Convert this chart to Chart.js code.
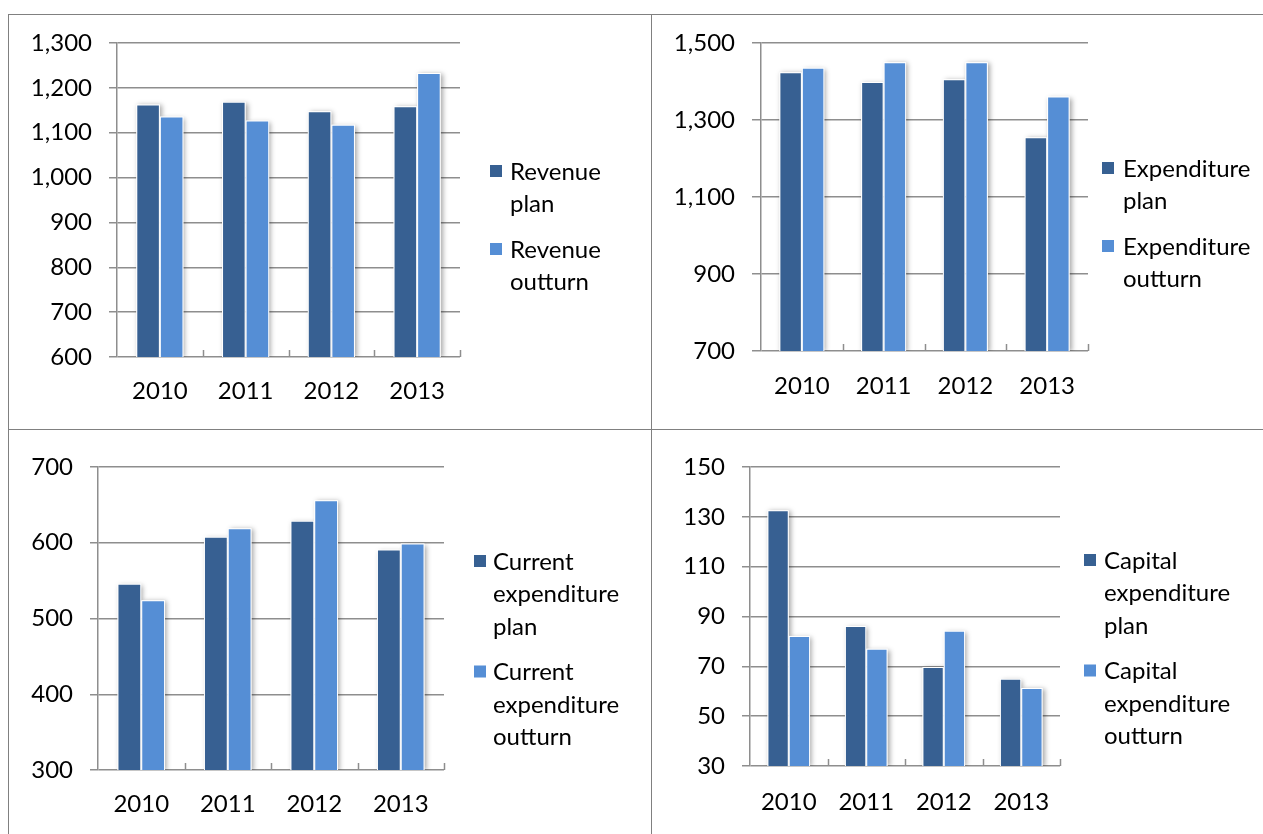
<!DOCTYPE html>
<html>
<head>
<meta charset="utf-8">
<title>Budget plan vs outturn 2010-2013</title>
<script src="https://cdn.jsdelivr.net/npm/chart.js@4.4.1/dist/chart.umd.min.js"></script>
<style>
  html, body { margin: 0; padding: 0; background: #fff; }
  #page { position: relative; width: 1263px; height: 834px; overflow: hidden; }
  .rule { position: absolute; background: #808080; }
  .cell { position: absolute; }
  .cell canvas { display: block; }
</style>
</head>
<body>
<div id="page">
  <div class="rule" style="left:8px;top:14px;width:1255px;height:1px"></div>
  <div class="rule" style="left:8px;top:429px;width:1255px;height:1px"></div>
  <div class="rule" style="left:8px;top:14px;width:1px;height:820px"></div>
  <div class="rule" style="left:651px;top:14px;width:1px;height:820px"></div>

  <div class="cell" style="left:9px;top:15px"><canvas id="revenue" width="642" height="413"></canvas></div>
  <div class="cell" style="left:653px;top:15px"><canvas id="expenditure" width="610" height="413"></canvas></div>
  <div class="cell" style="left:9px;top:430px"><canvas id="current" width="642" height="404"></canvas></div>
  <div class="cell" style="left:653px;top:430px"><canvas id="capital" width="610" height="404"></canvas></div>
</div>

<script>
// --- data ---
const years = ['2010', '2011', '2012', '2013'];

const revenuePlan = [1163, 1169, 1148, 1159];
const revenueOutturn = [1136, 1127, 1118, 1233];
const revenueTicks = [600, 700, 800, 900, 1000, 1100, 1200, 1300];

const expenditurePlan = [1424, 1399, 1406, 1255];
const expenditureOutturn = [1436, 1450, 1450, 1361];
const expenditureTicks = [700, 900, 1100, 1300, 1500];

const currentPlan = [546, 608, 629, 591];
const currentOutturn = [524, 619, 656, 599];
const currentTicks = [300, 400, 500, 600, 700];

const capitalPlan = [132.6, 86.2, 69.7, 65];
const capitalOutturn = [82.2, 77.1, 84.3, 61.3];
const capitalTicks = [30, 50, 70, 90, 110, 130, 150];

const revenueNames = [['Revenue', 'plan'], ['Revenue', 'outturn']];
const expenditureNames = [['Expenditure', 'plan'], ['Expenditure', 'outturn']];
const currentNames = [['Current', 'expenditure', 'plan'], ['Current', 'expenditure', 'outturn']];
const capitalNames = [['Capital', 'expenditure', 'plan'], ['Capital', 'expenditure', 'outturn']];

const PLAN_COLOR = '#376092';
const OUTTURN_COLOR = '#558ED5';
const GRID_COLOR = '#8e8e8e';
const FONT = 'Lato, "DejaVu Sans", sans-serif';
const FONT_SIZE = 24;

// soft shadow behind bars, drawn from the bar elements the library laid out
const barShadow = {
    id: 'barShadow',
    beforeDatasetsDraw(chart) {
        const { ctx, chartArea } = chart;
        ctx.save();
        ctx.beginPath();
        ctx.rect(chartArea.left, chartArea.top - 10, chartArea.width + 10, chartArea.height + 10);
        ctx.clip();
        ctx.shadowColor = 'rgba(0,0,0,0.35)';
        ctx.shadowBlur = 5;
        ctx.shadowOffsetX = 2;
        ctx.shadowOffsetY = 1;
        ctx.fillStyle = '#fff';
        chart.data.datasets.forEach((ds, i) => {
            chart.getDatasetMeta(i).data.forEach(bar => {
                const bottom = Math.min(bar.base, chartArea.bottom);
                ctx.fillRect(bar.x - bar.width / 2, bar.y, bar.width, bottom - bar.y);
            });
        });
        ctx.restore();
    }
};

// short category separators pointing up from the axis, like the original
const innerTicks = {
    id: 'innerTicks',
    beforeDatasetsDraw(chart) {
        const { ctx, chartArea } = chart;
        const xs = chart.scales.x;
        const n = chart.data.labels.length;
        ctx.save();
        ctx.strokeStyle = GRID_COLOR;
        ctx.lineWidth = 1.5;
        ctx.beginPath();
        for (let i = 1; i <= n; i++) {
            const px = i < n ? (xs.getPixelForValue(i - 1) + xs.getPixelForValue(i)) / 2 : chartArea.right;
            ctx.moveTo(Math.round(px) + 0.5, chartArea.bottom);
            ctx.lineTo(Math.round(px) + 0.5, chartArea.bottom - 7);
        }
        ctx.stroke();
        ctx.restore();
    }
};

// legend on the right with wrapped entries
const sideLegend = {
    id: 'sideLegend',
    afterDraw(chart, args, opts) {
        const ctx = chart.ctx;
        ctx.save();
        ctx.font = FONT_SIZE + 'px ' + FONT;
        ctx.textBaseline = 'alphabetic';
        let y = opts.top;
        chart.data.datasets.forEach(ds => {
            ctx.fillStyle = ds.backgroundColor;
            ctx.fillRect(opts.boxX, y - 6, 12, 12);
            ctx.fillStyle = '#000';
            ds.legendLines.forEach((t, k) => {
                ctx.fillText(t, opts.textX, y + k * 32.5 + 8.5);
            });
            y += ds.legendLines.length * 32.5 + 13;
        });
        ctx.restore();
    }
};

function makeChart(id, plan, outturn, names, ticks, layout) {
    const ctx = document.getElementById(id).getContext('2d');
    return new Chart(ctx, {
        type: 'bar',
        data: {
            labels: years,
            datasets: [
                { label: names[0].join(' '), legendLines: names[0], data: plan,
                  backgroundColor: PLAN_COLOR, borderColor: '#fff', borderWidth: 1 },
                { label: names[1].join(' '), legendLines: names[1], data: outturn,
                  backgroundColor: OUTTURN_COLOR, borderColor: '#fff', borderWidth: 1 }
            ]
        },
        plugins: [barShadow, innerTicks, sideLegend],
        options: {
            responsive: false,
            animation: false,
            datasets: { bar: { categoryPercentage: 0.55, barPercentage: 1 } },
            layout: { padding: { top: layout.top, right: layout.right, left: 0, bottom: 0 } },
            plugins: {
                legend: { display: false },
                tooltip: { enabled: false },
                sideLegend: layout.legend
            },
            scales: {
                x: {
                    grid: { display: false, drawTicks: false },
                    border: { display: false },
                    ticks: { color: '#000', padding: layout.xPad, font: { family: FONT, size: FONT_SIZE } },
                    afterFit: s => { s.height = layout.xHeight; }
                },
                y: {
                    min: ticks[0],
                    max: ticks[ticks.length - 1],
                    afterBuildTicks: s => { s.ticks = ticks.map(v => ({ value: v })); },
                    grid: { color: GRID_COLOR, lineWidth: 1.5, tickLength: layout.tick, drawTicks: true },
                    border: { display: true, color: GRID_COLOR, width: 1.5 },
                    ticks: {
                        color: '#000',
                        padding: 17,
                        font: { family: FONT, size: FONT_SIZE },
                        callback: v => Number(v).toLocaleString('en-US')
                    },
                    afterFit: s => {
                        s.width = layout.yWidth;
                        // tick padding should only push labels sideways, not shrink the plot
                        s.paddingTop = 0;
                        s.paddingBottom = 0;
                    }
                }
            }
        }
    });
}

function build() {
    makeChart('revenue', revenuePlan, revenueOutturn, revenueNames, revenueTicks, {
        top: 28, right: 191, yWidth: 108, xHeight: 71, tick: 8, xPad: 20,
        legend: { boxX: 481, textX: 501, top: 156 }
    });
    makeChart('expenditure', expenditurePlan, expenditureOutturn, expenditureNames, expenditureTicks, {
        top: 28, right: 175, yWidth: 108, xHeight: 77, tick: 9, xPad: 21,
        legend: { boxX: 449, textX: 470, top: 153 }
    });
    makeChart('current', currentPlan, currentOutturn, currentNames, currentTicks, {
        top: 37, right: 207, yWidth: 89, xHeight: 64, tick: 8, xPad: 20,
        legend: { boxX: 465, textX: 484, top: 131 }
    });
    makeChart('capital', capitalPlan, capitalOutturn, capitalNames, capitalTicks, {
        top: 37, right: 203, yWidth: 97, xHeight: 68, tick: 8, xPad: 22,
        legend: { boxX: 431, textX: 451, top: 130 }
    });
}

if (document.fonts && document.fonts.load) {
    document.fonts.load(FONT_SIZE + 'px Lato').then(build, build);
} else {
    build();
}
</script>
</body>
</html>
